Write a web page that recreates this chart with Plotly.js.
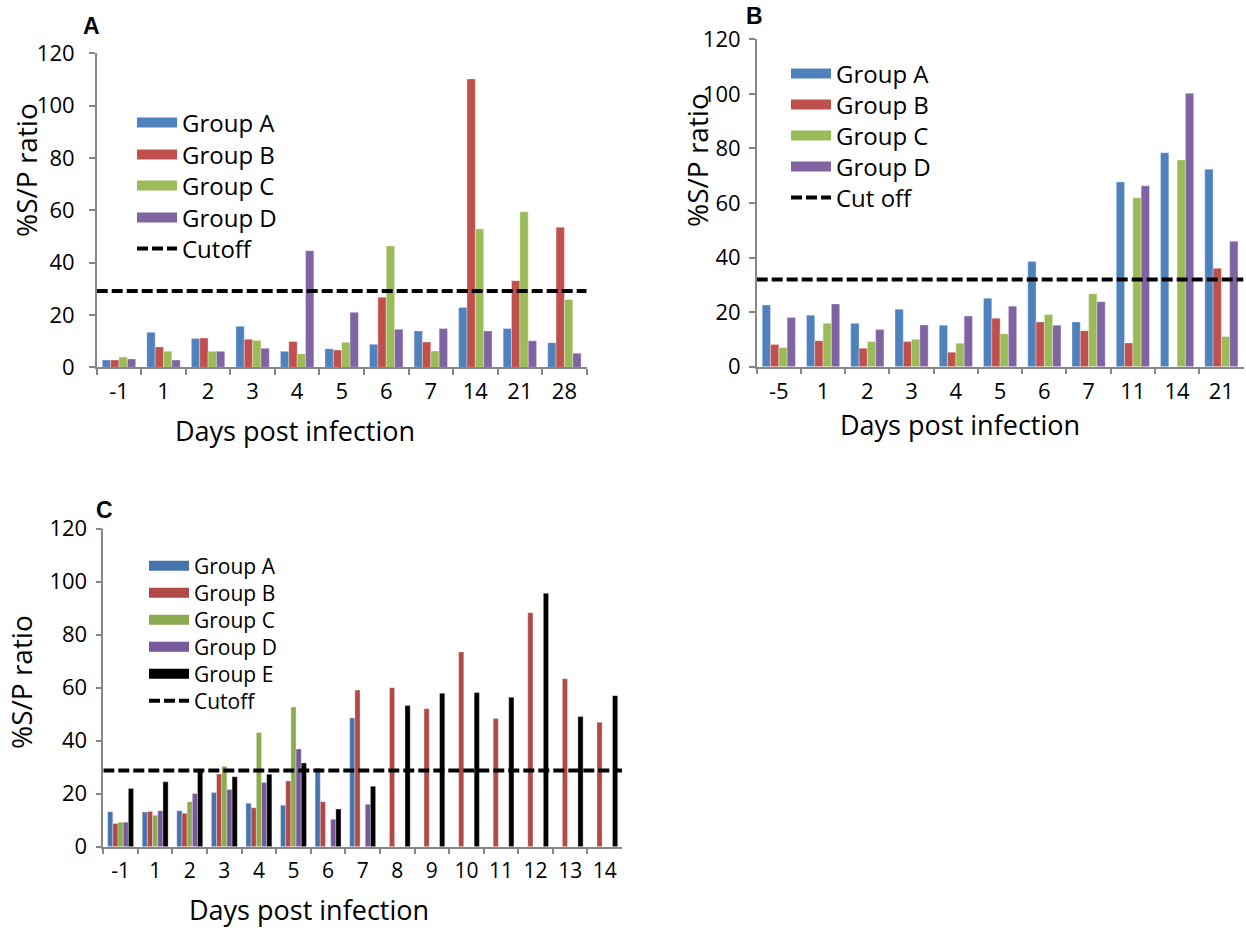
<!DOCTYPE html>
<html>
<head>
<meta charset="utf-8">
<script src="https://cdn.plot.ly/plotly-3.0.1.min.js"></script>
<style>
  html, body { margin: 0; padding: 0; background: #ffffff; }
  #chart { width: 1246px; height: 930px; }
</style>
</head>
<body>
<div id="chart"></div>
<script>
// ---------- Panel A ----------
const daysA = ['-1', '1', '2', '3', '4', '5', '6', '7', '14', '21', '28'];
const panelA_groupA = [2.8, 13.4, 11.0, 15.7, 6.1, 7.1, 8.8, 13.9, 22.9, 14.8, 9.4];
const panelA_groupB = [2.8, 7.8, 11.2, 10.7, 9.9, 6.6, 26.8, 9.7, 110.2, 33.1, 53.5];
const panelA_groupC = [3.9, 6.1, 6.1, 10.2, 5.2, 9.6, 46.4, 6.2, 52.9, 59.4, 25.9];
const panelA_groupD = [3.2, 2.8, 6.1, 7.3, 44.5, 21.0, 14.5, 14.8, 13.9, 10.1, 5.4];
const panelA_cutoff = 29.2;

// ---------- Panel B ----------
const daysB = ['-5', '1', '2', '3', '4', '5', '6', '7', '11', '14', '21'];
const panelB_groupA = [22.6, 18.9, 15.9, 21.1, 15.2, 25.1, 38.6, 16.4, 67.7, 78.4, 72.4];
const panelB_groupB = [8.1, 9.5, 6.8, 9.2, 5.3, 17.8, 16.4, 13.2, 8.7, null, 36.1];
const panelB_groupC = [7.0, 15.9, 9.2, 10.1, 8.6, 12.1, 19.1, 26.7, 61.9, 75.8, 11.1];
const panelB_groupD = [18.0, 23.0, 13.6, 15.3, 18.6, 22.2, 15.2, 23.8, 66.3, 100.2, 46.0];
const panelB_cutoff = 32.0;

// ---------- Panel C ----------
const daysC = ['-1', '1', '2', '3', '4', '5', '6', '7', '8', '9', '10', '11', '12', '13', '14'];
const panelC_groupA = [13.2, 13.1, 13.6, 20.5, 16.4, 15.6, 29.6, 48.6, null, null, null, null, null, null, null];
const panelC_groupB = [8.8, 13.3, 12.6, 27.4, 14.7, 24.8, 17.0, 59.1, 60.0, 52.1, 73.5, 48.4, 88.3, 63.4, 47.0];
const panelC_groupC = [9.2, 11.9, 17.0, 30.4, 43.1, 52.7, null, null, null, null, null, null, null, null, null];
const panelC_groupD = [9.2, 13.6, 20.1, 21.6, 24.2, 36.9, 10.4, 16.0, null, null, null, null, null, null, null];
const panelC_groupE = [22.0, 24.5, 28.9, 26.4, 27.3, 31.6, 14.2, 22.8, 53.3, 57.9, 58.2, 56.4, 95.6, 49.1, 57.0];
const panelC_cutoff = 28.8;

// ---------- Text ----------
const yTickVals = [0, 20, 40, 60, 80, 100, 120];
const xTitleText = 'Days post infection';
const yTitleText = '%S/P ratio';
const namesABCD = ['Group A', 'Group B', 'Group C', 'Group D'];
const namesABCDE = ['Group A', 'Group B', 'Group C', 'Group D', 'Group E'];

// ---------- Styling ----------
const W = 1246, H = 930;
const FONT = '"Open Sans", "Noto Sans", sans-serif';
const colorsAB = ['#4F81BD', '#C0504D', '#9BBB59', '#8064A2'];
const colorsC = ['#4874AE', '#B04A47', '#8DAA50', '#75599B', '#000000'];
const axisGray = '#868686';
const px = v => v / W;
const py = v => 1 - v / H;

const traces = [];
const legends = {};
let legendCount = 0;

function newLegend(xPix, yPix, size) {
  legendCount += 1;
  const id = legendCount === 1 ? 'legend' : 'legend' + legendCount;
  legends[id] = {
    x: px(xPix), y: py(yPix), xanchor: 'left', yanchor: 'middle', xref: 'paper', yref: 'paper',
    bgcolor: 'rgba(0,0,0,0)', borderwidth: 0, itemwidth: 40, tracegroupgap: 0,
    font: { family: FONT, size: size, color: '#000' }, itemclick: false, itemdoubleclick: false
  };
  return id;
}

function addPanel(xa, ya, xo, cats, series, names, colors, cutoff, cutName, legX, legYs, legSize) {
  series.forEach((vals, i) => {
    traces.push({
      type: 'bar', x: cats, y: vals, name: names[i],
      xaxis: xa, yaxis: ya, showlegend: false,
      marker: { color: colors[i], line: { color: 'rgba(255,255,255,0.55)', width: 0.6 } },
      hoverinfo: 'x+y+name'
    });
  });
  // legend entries drawn as wide swatches, like the original
  series.forEach((vals, i) => {
    traces.push({
      type: 'scatter', mode: 'lines', x: [null], y: [null], name: names[i],
      xaxis: xo, yaxis: ya, legend: newLegend(legX, legYs[i], legSize),
      line: { color: colors[i], width: 10 }, hoverinfo: 'skip'
    });
  });
  traces.push({
    type: 'scatter', mode: 'lines', x: [0, 1], y: [cutoff, cutoff], name: cutName,
    xaxis: xo, yaxis: ya, legend: newLegend(legX, legYs[series.length], legSize),
    line: { color: '#000000', width: 4, dash: '11px,4px' }, hoverinfo: 'skip'
  });
}

addPanel('x', 'y', 'x4', daysA,
  [panelA_groupA, panelA_groupB, panelA_groupC, panelA_groupD],
  namesABCD, colorsAB, panelA_cutoff, 'Cutoff', 132, [123, 155, 186, 218, 249], 24);
addPanel('x2', 'y2', 'x5', daysB,
  [panelB_groupA, panelB_groupB, panelB_groupC, panelB_groupD],
  namesABCD, colorsAB, panelB_cutoff, 'Cut off', 786, [74, 105, 136, 167, 198], 24);
addPanel('x3', 'y3', 'x6', daysC,
  [panelC_groupA, panelC_groupB, panelC_groupC, panelC_groupD, panelC_groupE],
  namesABCDE, colorsC, panelC_cutoff, 'Cutoff', 144, [566, 593, 620, 647, 674, 701], 21);

function xCat(domain, cats, anchor, size) {
  return {
    domain: domain, anchor: anchor, type: 'category', categoryorder: 'array', categoryarray: cats,
    showline: true, linecolor: axisGray, linewidth: 1.5, ticks: 'outside', tickson: 'boundaries',
    ticklen: 6, tickcolor: axisGray, tickwidth: 1.5, showgrid: false, zeroline: false, tickangle: 0,
    tickfont: { family: FONT, size: size, color: '#000' }, ticklabelstandoff: 4, fixedrange: true
  };
}
function yLin(domain, anchor, standoff) {
  return {
    domain: domain, anchor: anchor, range: [0, 120], tickvals: yTickVals, showline: true,
    linecolor: axisGray, linewidth: 1.5, ticks: 'outside', ticklen: 6, tickcolor: axisGray, tickwidth: 1.5,
    showgrid: false, zeroline: false, tickfont: { family: FONT, size: 22, color: '#000' },
    ticklabelstandoff: standoff, fixedrange: true
  };
}
function xOver(over, anchor) {
  return { overlaying: over, anchor: anchor, range: [0, 1], visible: false, fixedrange: true };
}

const domA_x = [px(96.7), px(586.7)], domA_y = [py(367.3), py(53.3)];
const domB_x = [px(756.7), px(1243.5)], domB_y = [py(366.7), py(39.3)];
const domC_x = [px(103.3), px(622)], domC_y = [py(846.7), py(528.7)];

function ann(text, xPix, yPix, opts) {
  return Object.assign({
    text: text, x: px(xPix), y: py(yPix), xref: 'paper', yref: 'paper',
    xanchor: 'center', yanchor: 'middle', showarrow: false,
    font: { family: FONT, size: 27, color: '#000' }
  }, opts || {});
}
const panelFont = { family: '"Liberation Sans", Arial, sans-serif', size: 23, color: '#000' };
const yTitleFont = { family: FONT, size: 28, color: '#000' };

const layout = Object.assign({
  width: W, height: H, margin: { l: 0, r: 0, t: 0, b: 0 },
  paper_bgcolor: '#ffffff', plot_bgcolor: 'rgba(0,0,0,0)',
  barmode: 'group', bargap: 0.25, bargroupgap: 0,
  showlegend: true,
  xaxis: xCat(domA_x, daysA, 'y', 22), yaxis: yLin(domA_y, 'x', 10),
  xaxis2: xCat(domB_x, daysB, 'y2', 22), yaxis2: yLin(domB_y, 'x2', 4),
  xaxis3: xCat(domC_x, daysC, 'y3', 21), yaxis3: yLin(domC_y, 'x3', 4),
  xaxis4: xOver('x', 'y'), xaxis5: xOver('x2', 'y2'), xaxis6: xOver('x3', 'y3'),
  annotations: [
    ann('<b>A</b>', 91, 26, { font: panelFont }),
    ann('<b>B</b>', 754.5, 16.5, { font: panelFont }),
    ann('<b>C</b>', 104.5, 509.5, { font: panelFont }),
    ann(xTitleText, 295, 431),
    ann(xTitleText, 960, 424),
    ann(xTitleText, 309, 909),
    ann(yTitleText, 26, 170, { textangle: -90, font: yTitleFont }),
    ann(yTitleText, 697, 160, { textangle: -90, font: yTitleFont }),
    ann(yTitleText, 21, 682, { textangle: -90, font: yTitleFont })
  ]
}, legends);

Plotly.newPlot('chart', traces, layout, { displayModeBar: false, responsive: false });
</script>
</body>
</html>
